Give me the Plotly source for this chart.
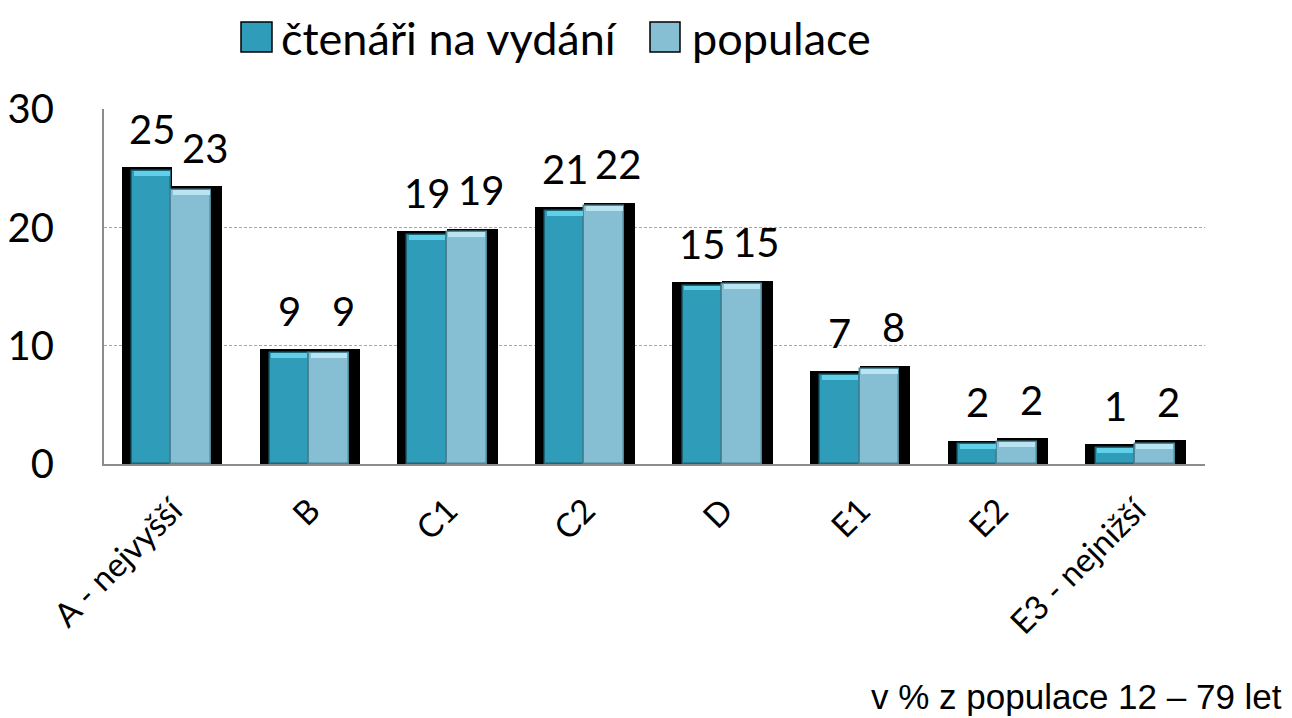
import plotly.graph_objects as go

categories = ["A - nejvyšší", "B", "C1", "C2", "D", "E1", "E2", "E3 - nejnižší"]
readers = [24.8, 9.4, 19.4, 21.4, 15.1, 7.55, 1.65, 1.37]
population = [23.2, 9.4, 19.6, 21.8, 15.2, 8.0, 1.85, 1.73]
reader_labels = ["25", "9", "19", "21", "15", "7", "2", "1"]
population_labels = ["23", "9", "19", "22", "15", "8", "2", "2"]
series_names = ["čtenáři na vydání", "populace"]
y_ticks = [0, 10, 20, 30]
note_text = "v % z populace 12 – 79 let"

W, H = 1292, 718
ML, MR, MT, MB = 104, 87, 109, 254
PW, PH = W - ML - MR, H - MT - MB

def px_x(p):
    return (p - ML) / PW

def px_y(p):
    return (H - MB - p) / PH

FONT = "Lato"
C_READ, C_READ_TOP, C_READ_EDGE = "#2F9CB9", "#62CFE8", "#1E6677"
C_POP, C_POP_TOP, C_POP_EDGE = "#86BFD4", "#B9E5F2", "#4E8597"

xs = list(range(len(categories)))
R_OFF, R_W = -0.295, 0.285
P_OFF, P_W = -0.010, 0.290
SH_DY = 0.32
BEVEL = 0.42

fig = go.Figure()
# shadows
fig.add_trace(go.Bar(x=xs, y=[v + SH_DY for v in readers], offset=-0.37, width=0.365,
                     marker=dict(color="black", line=dict(width=0)), hoverinfo="skip", showlegend=False))
fig.add_trace(go.Bar(x=xs, y=[v + SH_DY for v in population], offset=-0.010, width=0.37,
                     marker=dict(color="black", line=dict(width=0)), hoverinfo="skip", showlegend=False))
# main bars
fig.add_trace(go.Bar(x=xs, y=readers, offset=R_OFF, width=R_W, name=series_names[0],
                     marker=dict(color=C_READ, line=dict(color=C_READ_EDGE, width=1.5)), showlegend=False))
fig.add_trace(go.Bar(x=xs, y=population, offset=P_OFF, width=P_W, name=series_names[1],
                     marker=dict(color=C_POP, line=dict(color=C_POP_EDGE, width=1.5)), showlegend=False))
# top bevel bands
fig.add_trace(go.Bar(x=xs, y=[BEVEL] * len(xs), base=[v - BEVEL for v in readers],
                     offset=R_OFF + 0.012, width=R_W - 0.024,
                     marker=dict(color=C_READ_TOP, line=dict(width=0)), hoverinfo="skip", showlegend=False))
fig.add_trace(go.Bar(x=xs, y=[BEVEL] * len(xs), base=[v - BEVEL for v in population],
                     offset=P_OFF + 0.012, width=P_W - 0.024,
                     marker=dict(color=C_POP_TOP, line=dict(width=0)), hoverinfo="skip", showlegend=False))

annotations = []
for i, (v, t) in enumerate(zip(readers, reader_labels)):
    annotations.append(dict(x=i + R_OFF + R_W / 2, y=v, text=t, showarrow=False,
                            xref="x", yref="y", yanchor="bottom", yshift=16,
                            font=dict(family=FONT, size=40, color="black")))
for i, (v, t) in enumerate(zip(population, population_labels)):
    annotations.append(dict(x=i + P_OFF + P_W / 2, y=v, text=t, showarrow=False,
                            xref="x", yref="y", yanchor="bottom", yshift=16, xshift=14,
                            font=dict(family=FONT, size=40, color="black")))

# custom legend
shapes = []
legend_items = [(241, 272, 279, series_names[0], C_READ),
                (650, 680, 690, series_names[1], C_POP)]
for x0, x1, tx, name, col in legend_items:
    shapes.append(dict(type="rect", xref="paper", yref="paper",
                       x0=px_x(x0), x1=px_x(x1), y0=px_y(52), y1=px_y(22),
                       fillcolor=col, line=dict(color="black", width=1.5)))
    annotations.append(dict(x=px_x(tx), y=px_y(38), xref="paper", yref="paper", text=name,
                            showarrow=False, xanchor="left", yanchor="middle",
                            font=dict(family=FONT, size=45, color="black")))

annotations.append(dict(x=px_x(1284), y=px_y(696), xref="paper", yref="paper", text=note_text,
                        showarrow=False, xanchor="right", yanchor="middle",
                        font=dict(family="Liberation Sans", size=35, color="black")))

fig.update_layout(
    width=W, height=H,
    margin=dict(l=ML, r=MR, t=MT, b=MB, autoexpand=False),
    paper_bgcolor="white", plot_bgcolor="white",
    barmode="overlay", bargap=0,
    showlegend=False,
    annotations=annotations, shapes=shapes,
    font=dict(family=FONT, color="black"),
)
fig.update_xaxes(range=[-0.5, len(categories) - 0.5], tickvals=xs, ticktext=categories,
                 tickangle=-45, tickfont=dict(family=FONT, size=33, color="black"),
                 showline=True, linecolor="#8C8C8C", linewidth=2, showgrid=False,
                 ticks="", zeroline=False, automargin=False, ticklabelstandoff=12)
fig.update_yaxes(range=[0, 30.03], tickvals=y_ticks, tickfont=dict(family=FONT, size=40, color="black"),
                 showline=True, linecolor="#8C8C8C", linewidth=2,
                 showgrid=True, gridcolor="#A6A6A6", gridwidth=1, griddash="3px,2px",
                 zeroline=False, ticks="", ticklabelstandoff=40, automargin=False)

fig.write_html("out.html", config={"displayModeBar": False},
               post_script="document.body.style.margin='0';document.body.style.overflow='hidden';")
